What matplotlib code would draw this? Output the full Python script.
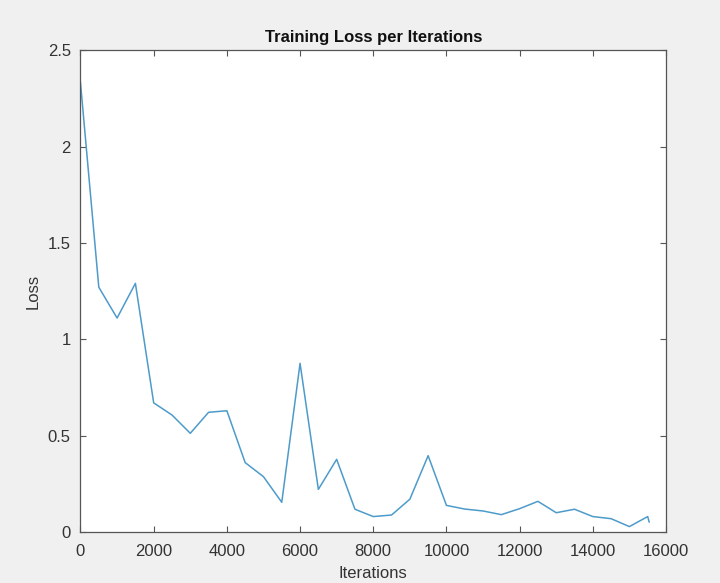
import numpy as np
import matplotlib.pyplot as plt

# training log
iterations = [0, 500, 1000, 1500, 2000, 2500, 3000, 3500, 4000, 4500, 5000,
              5500, 6000, 6500, 7000, 7500, 8000, 8500, 9000, 9500, 10000,
              10500, 11000, 11500, 12000, 12500, 13000, 13500, 14000, 14500,
              15000, 15500, 15540]
loss = [2.33, 1.27, 1.11, 1.29, 0.67, 0.607, 0.512, 0.621, 0.629, 0.36, 0.287,
        0.154, 0.875, 0.221, 0.377, 0.118, 0.08, 0.088, 0.17, 0.396, 0.138,
        0.119, 0.109, 0.09, 0.121, 0.159, 0.10, 0.118, 0.08, 0.069,
        0.028, 0.08, 0.052]

xticks = np.arange(0, 16001, 2000)
yticks = [0, 0.5, 1, 1.5, 2, 2.5]
ytick_labels = ['0', '0.5', '1', '1.5', '2', '2.5']

plt.rcParams['font.family'] = ['Liberation Sans', 'DejaVu Sans']

fig = plt.figure(figsize=(7.2, 5.83), dpi=100, facecolor='#f0f0f0')
ax = fig.add_axes([0.1118, 0.0875, 0.8132, 0.8265])
ax.set_facecolor('white')

ax.plot(iterations, loss, color='#4d9bca', linewidth=1.1)

ax.set_xlim(0, 16000)
ax.set_ylim(0, 2.5)
ax.set_xticks(xticks)
ax.set_yticks(yticks)
ax.set_yticklabels(ytick_labels)

ax.tick_params(direction='in', top=True, right=True, length=4, width=0.8,
               color='#555555', labelcolor='#333333', labelsize=12)
ax.tick_params(axis='x', labeltop=False, pad=9)
ax.tick_params(axis='y', labelright=False, pad=7)
for s in ax.spines.values():
    s.set_color('#555555')
    s.set_linewidth(0.9)

ax.set_title('Training Loss per Iterations', fontsize=12, fontweight='bold',
             color='#111111', pad=6)
ax.set_xlabel('Iterations', fontsize=12, color='#333333', labelpad=5)
ax.set_ylabel('Loss', fontsize=12, color='#333333', labelpad=5)

fig.savefig('out.png', dpi=100, facecolor=fig.get_facecolor())
